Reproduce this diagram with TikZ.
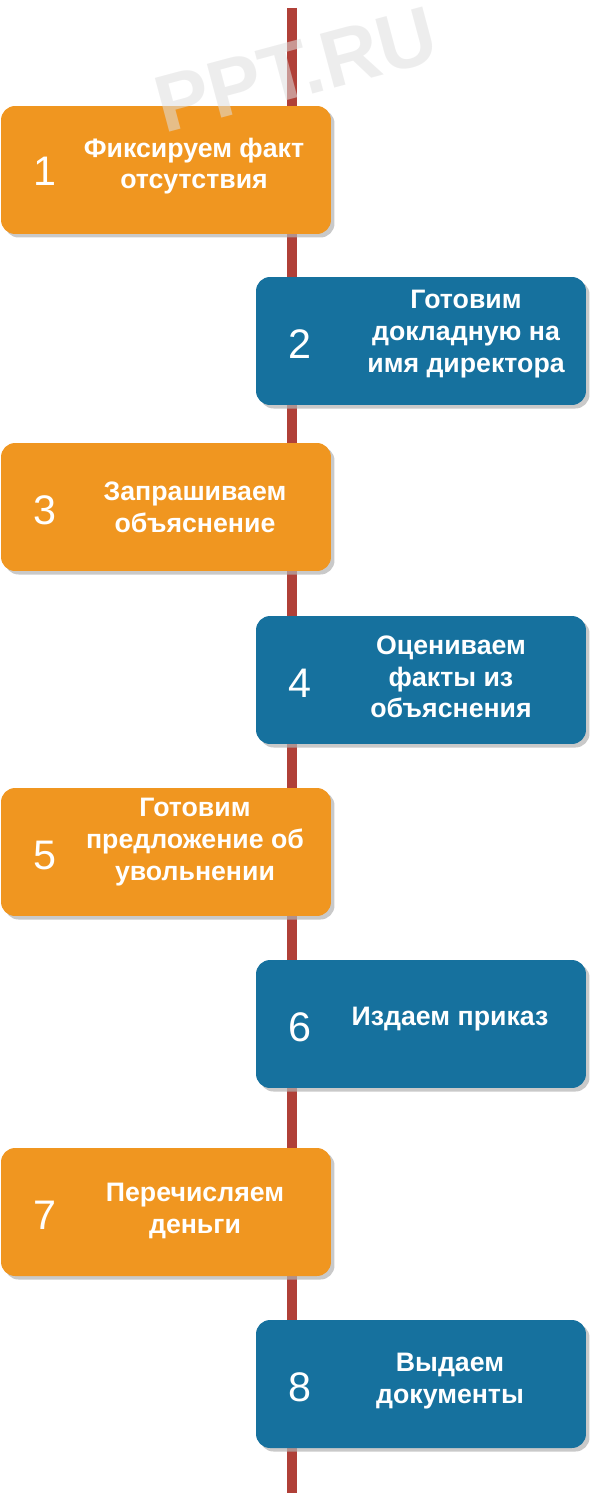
\documentclass[tikz,border=0pt]{standalone}
\usepackage{fontspec}
\setmainfont{Liberation Sans}
\usetikzlibrary{shadows}
\definecolor{steporange}{RGB}{240,150,32}
\definecolor{stepblue}{RGB}{22,113,158}
\definecolor{axisred}{RGB}{176,64,56}
\begin{document}
\begin{tikzpicture}[x=0.02cm, y=-0.02cm,
  every node/.style={text=white},
  stepbox/.style={rectangle, rounded corners=8pt, minimum width=6.6cm,
    minimum height=2.56cm, inner sep=0pt,
    drop shadow={shadow xshift=2pt, shadow yshift=-2pt, fill=gray!60, opacity=0.7}},
  leftbox/.style={stepbox, fill=steporange},
  rightbox/.style={stepbox, fill=stepblue},
  stepnum/.style={font=\fontsize{23.5}{26}\selectfont},
  steptext/.style={font=\fontsize{15.2}{18}\selectfont\bfseries,
    align=center, inner sep=0pt},
]
\useasboundingbox (0,0) rectangle (590,1500);

% Time axis
\coordinate (top) at (292,8);
\coordinate (bottom) at (292,1493);
\draw[axisred, line width=6.2pt] (top) -- (bottom);

% Left column: orange steps
\node[leftbox] (b1) at (166,170) {};
\node[leftbox] (b3) at (166,507) {};
\node[leftbox] (b5) at (166,852) {};
\node[leftbox] (b7) at (166,1212) {};

% Right column: blue steps
\node[rightbox] (b2) at (421,341) {};
\node[rightbox] (b4) at (421,680) {};
\node[rightbox] (b6) at (421,1024) {};
\node[rightbox] (b8) at (421,1384) {};

% Step numbers
\node[stepnum] (n1) at (45,171) {1};
\node[stepnum] (n2) at (300,344) {2};
\node[stepnum] (n3) at (45,510) {3};
\node[stepnum] (n4) at (300,683) {4};
\node[stepnum] (n5) at (45,855) {5};
\node[stepnum] (n6) at (300,1027) {6};
\node[stepnum] (n7) at (45,1215) {7};
\node[stepnum] (n8) at (300,1387) {8};

% Step texts
\node[steptext] (t1) at (194,166) {Фиксируем факт\\отсутствия};
\node[steptext] (t2) at (466,334) {Готовим\\докладную на\\имя директора};
\node[steptext] (t3) at (195,507) {Запрашиваем\\объяснение};
\node[steptext] (t4) at (451,677) {Оцениваем\\факты из\\объяснения};
\node[steptext] (t5) at (195,842) {Готовим\\предложение об\\увольнении};
\node[steptext] (t6) at (450,1019) {Издаем приказ};
\node[steptext] (t7) at (195,1211) {Перечисляем\\деньги};
\node[steptext] (t8) at (450,1381) {Выдаем\\документы};

% Watermark
\node[text=gray!25, opacity=0.55, rotate=15, inner sep=0pt,
  font=\fontsize{46}{50}\selectfont\bfseries] (mark) at (296,70) {PPT.RU};
\end{tikzpicture}
\end{document}
